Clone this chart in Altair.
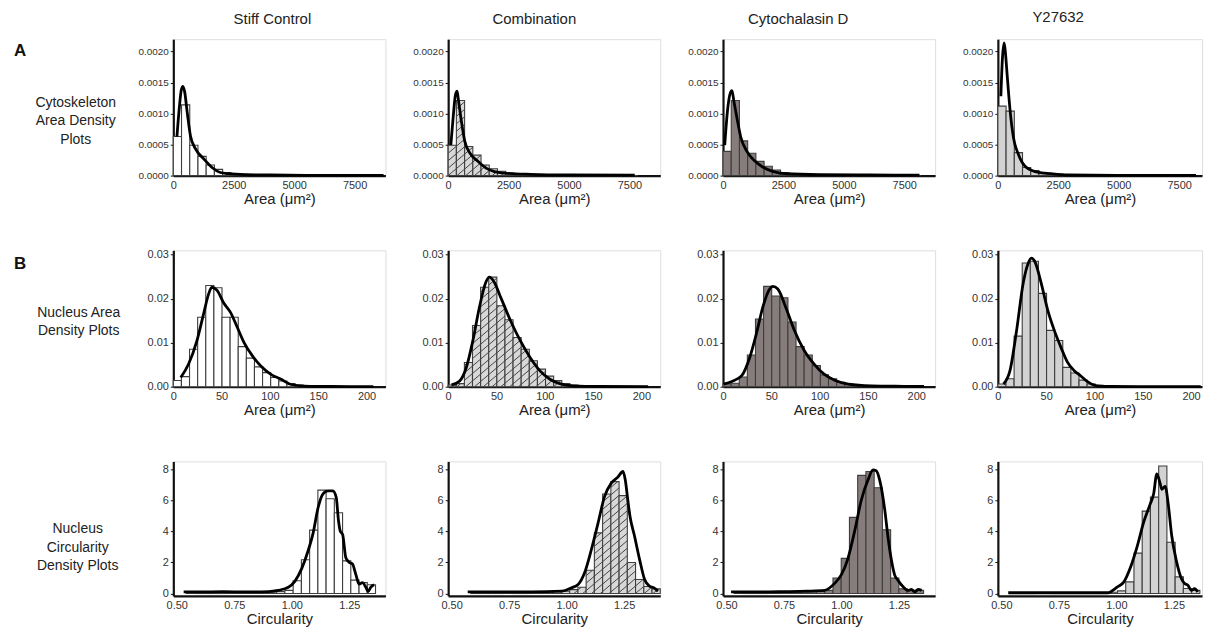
import math
import altair as alt
import pandas as pd

FONT = "Liberation Sans"
TEXT = "#222222"

# ---------------- text content ----------------
conditions = ["Stiff Control", "Combination", "Cytochalasin D", "Y27632"]
panel_letters = ["A", "B", ""]
row_text = ["Cytoskeleton\nArea Density\nPlots",
            "Nucleus Area\nDensity Plots",
            "Nucleus\nCircularity\nDensity Plots"]
x_titles = ["Area (μm²)", "Area (μm²)", "Circularity"]

# ---------------- row A : cytoskeleton area ----------------
A_bin = 340.0
A_start = [0.0, 0.0, 0.0, 0.0]
A_hist = [
    [0.00063, 0.00114, 0.00049, 0.00031, 0.00017, 0.00010, 0.00005, 0.00003, 0.00002, 0.000015,
     0.00001, 0.00001, 0.000008, 0.000006, 0.000005, 0.000004, 0.000003, 0.000003, 0.000002,
     0.000002, 0.000002, 0.000001, 0.000001, 0.000001, 0.000001],
    [0.00049, 0.00121, 0.00047, 0.00033, 0.00017, 0.00011, 0.00007, 0.00004, 0.00003, 0.00002,
     0.00001, 0.00001, 0.000008, 0.000006, 0.000005, 0.000004, 0.000003, 0.000003, 0.000002,
     0.000002, 0.000002, 0.000001, 0.000001],
    [0.00039, 0.00121, 0.00056, 0.00036, 0.00023, 0.00015, 0.00009, 0.00005, 0.00003, 0.00002,
     0.00001, 0.00001, 0.000008, 0.000006, 0.000005, 0.000004, 0.000003, 0.000003, 0.000002,
     0.000002, 0.000002, 0.000001, 0.000001, 0.000001],
    [0.00112, 0.00104, 0.00037, 0.00013, 0.00008, 0.00005, 0.00003, 0.00002, 0.00001, 0.00001,
     0.000008, 0.000006, 0.000005, 0.000004, 0.000003, 0.000003, 0.000002, 0.000002, 0.000002,
     0.000001, 0.000001, 0.000001, 0.000001, 0.000001],
]
A_kde_x = [
    [150, 250, 330, 400, 470, 575, 710, 920, 1260, 1600, 1945, 2290, 2970, 4000, 5500, 7000, 8700],
    [110, 220, 300, 369, 430, 546, 683, 888, 1230, 1570, 1913, 2320, 3415, 5000, 7720],
    [70, 200, 300, 371, 450, 577, 742, 989, 1332, 1676, 2088, 2637, 4011, 6000, 8130],
    [124, 190, 261, 320, 371, 508, 646, 852, 1126, 1538, 2225, 2912, 5000, 8200],
]
A_kde_y = [
    [0.00063, 0.00110, 0.00138, 0.00144, 0.00135, 0.00102, 0.00064, 0.00043, 0.00027, 0.00013,
     0.00005, 0.00003, 0.000015, 0.00001, 0.000005, 0.000003, 0.000002],
    [0.00049, 0.00100, 0.00130, 0.00136, 0.00120, 0.00088, 0.00056, 0.00037, 0.00023, 0.00012,
     0.000065, 0.00004, 0.00002, 0.00001, 0.000008],
    [0.00049, 0.00110, 0.00133, 0.00137, 0.00120, 0.00093, 0.00061, 0.00039, 0.00023, 0.00013,
     0.000065, 0.00003, 0.000015, 0.00001, 0.000008],
    [0.00128, 0.00190, 0.00214, 0.00195, 0.00169, 0.00104, 0.00061, 0.00034, 0.00015, 0.000065,
     0.00003, 0.00001, 0.000005, 0.000003],
]
A_xticks = [0, 2500, 5000, 7500]
A_yticks = [0.0, 0.0005, 0.0010, 0.0015, 0.0020]

# ---------------- row B : nucleus area ----------------
B_bin = 8.4
B_start = [0.0, 0.0, 0.0, 0.0]
B_hist = [
    [0.0014, 0.0023, 0.0085, 0.0158, 0.0230, 0.0225, 0.0158, 0.0158, 0.0091, 0.0065, 0.0045, 0.0032,
     0.0021, 0.0013, 0.0007, 0.0004, 0.0002, 0.0001, 0.0001, 0.00005, 0.00005, 0.00003, 0.00003, 0.00002],
    [0.0004, 0.0007, 0.0055, 0.0139, 0.0226, 0.0249, 0.0184, 0.0152, 0.0112, 0.0085, 0.0059, 0.0040,
     0.0024, 0.0014, 0.0007, 0.0004, 0.0002, 0.0001, 0.0001, 0.00005, 0.00005, 0.00003, 0.00003, 0.00002],
    [0.0006, 0.0008, 0.0022, 0.0072, 0.0154, 0.0228, 0.0206, 0.0202, 0.0147, 0.0091, 0.0072, 0.0048,
     0.0027, 0.0018, 0.0010, 0.0006, 0.0004, 0.0002, 0.0001, 0.0001, 0.00005, 0.00005, 0.00003, 0.00003],
    [0.0006, 0.0018, 0.0115, 0.0281, 0.0285, 0.0212, 0.0128, 0.0105, 0.0044, 0.0031, 0.0015, 0.0006,
     0.0003, 0.0002, 0.0001, 0.00005, 0.00005, 0.00003, 0.00003, 0.00002, 0.00002, 0.00002, 0.00001, 0.00001],
]
B_kde_x = [
    [7.7, 15.7, 24.4, 31.3, 36.6, 40.0, 45.3, 52.2, 59.2, 66.2, 73.1, 81.9, 90.6, 101.0, 111.5, 122.0, 136.0, 164.0, 207.0],
    [3.4, 11.9, 18.7, 25.5, 32.3, 39.1, 42.5, 47.6, 54.4, 64.6, 74.8, 85.0, 95.1, 105.3, 115.5, 129.0, 156.0, 207.0],
    [0.7, 9.2, 19.4, 27.9, 34.7, 41.5, 48.3, 51.6, 56.7, 65.2, 73.7, 83.9, 94.1, 104.3, 116.2, 129.8, 153.6, 187.6, 208.0],
    [5.8, 12.6, 19.4, 26.2, 31.3, 34.7, 38.1, 44.9, 51.6, 58.4, 65.2, 72.0, 78.8, 85.6, 92.4, 102.6, 116.2, 174.0, 210.0],
]
B_kde_y = [
    [0.0021, 0.0051, 0.0104, 0.0165, 0.0211, 0.0226, 0.0219, 0.0190, 0.0169, 0.0135, 0.0101, 0.0070,
     0.0047, 0.0028, 0.0017, 0.0005, 0.00015, 0.00005, 0.00002],
    [0.0004, 0.0013, 0.0043, 0.0104, 0.0180, 0.0238, 0.0249, 0.0238, 0.0203, 0.0150, 0.0104, 0.0066,
     0.0036, 0.0017, 0.0007, 0.0002, 0.00005, 0.00002],
    [0.0006, 0.0012, 0.0025, 0.0068, 0.0122, 0.0183, 0.0222, 0.0228, 0.0222, 0.0179, 0.0129, 0.0083,
     0.0052, 0.0029, 0.0014, 0.0006, 0.0002, 0.0001, 0.00005],
    [0.0006, 0.0037, 0.0128, 0.0235, 0.0280, 0.0292, 0.0285, 0.0235, 0.0174, 0.0128, 0.0090, 0.0056,
     0.0037, 0.0025, 0.0012, 0.0002, 0.00005, 0.00002, 0.00001],
]
B_xticks = [0, 50, 100, 150, 200]
B_yticks = [0.0, 0.01, 0.02, 0.03]

# ---------------- row C : nucleus circularity ----------------
C_bin = 0.0358
C_start = [0.5406, 0.5836, 0.5334, 0.5396]
C_hist = [
    [0.05, 0.05, 0.06, 0.06, 0.06, 0.05, 0.06, 0.08, 0.08, 0.10, 0.10, 0.12, 0.20,
     0.82, 2.17, 4.08, 6.65, 6.10, 5.20, 2.10, 0.86, 0.70, 0.56],
    [0.05, 0.05, 0.05, 0.06, 0.06, 0.06, 0.06, 0.08, 0.08, 0.10, 0.12, 0.15, 0.25,
     0.40, 1.50, 3.90, 6.40, 7.20, 6.30, 2.00, 0.90, 0.45, 0.30],
    [0.05, 0.05, 0.06, 0.06, 0.06, 0.08, 0.08, 0.10, 0.10, 0.12, 0.15, 0.20,
     1.00, 2.26, 4.90, 7.60, 7.85, 6.80, 4.10, 1.00, 0.30, 0.20, 0.20],
    [0.03, 0.03, 0.03, 0.03, 0.04, 0.04, 0.04, 0.04, 0.05, 0.05, 0.05, 0.06, 0.08,
     0.17, 0.75, 2.60, 5.30, 6.20, 8.20, 3.30, 1.07, 0.32, 0.20],
]
C_kde_x = [
    [0.53, 0.60, 0.70, 0.80, 0.90, 0.94, 0.985, 1.014, 1.043, 1.071, 1.093, 1.114, 1.135, 1.157, 1.178,
     1.193, 1.203, 1.211, 1.221, 1.235, 1.250, 1.264, 1.278, 1.293, 1.307, 1.322, 1.332, 1.343, 1.358],
    [0.57, 0.70, 0.85, 0.98, 1.020, 1.050, 1.078, 1.107, 1.136, 1.165, 1.194, 1.223, 1.245, 1.255,
     1.266, 1.275, 1.295, 1.317, 1.339, 1.360, 1.380, 1.397],
    [0.52, 0.65, 0.75, 0.85, 0.927, 0.970, 0.999, 1.028, 1.057, 1.086, 1.115, 1.137, 1.151, 1.166,
     1.188, 1.202, 1.217, 1.231, 1.245, 1.268, 1.290, 1.304, 1.319, 1.333, 1.348],
    [0.53, 0.65, 0.80, 0.90, 0.962, 1.005, 1.033, 1.062, 1.090, 1.119, 1.147, 1.162, 1.176, 1.190,
     1.198, 1.212, 1.226, 1.240, 1.261, 1.283, 1.297, 1.311, 1.326, 1.340, 1.354],
]
C_kde_y = [
    [0.10, 0.10, 0.12, 0.10, 0.12, 0.20, 0.40, 0.80, 1.60, 2.75, 3.90, 5.50, 6.40, 6.60, 6.60,
     6.20, 4.70, 4.00, 3.80, 2.30, 2.00, 1.90, 1.25, 0.60, 0.70, 0.40, 0.13, 0.40, 0.56],
    [0.10, 0.10, 0.10, 0.15, 0.36, 0.58, 1.33, 2.80, 4.50, 6.25, 7.10, 7.50, 7.85, 7.30,
     6.00, 5.00, 3.70, 2.20, 0.90, 0.47, 0.36, 0.15],
    [0.10, 0.10, 0.12, 0.15, 0.20, 0.65, 1.20, 2.25, 4.00, 6.00, 7.30, 7.95, 7.90, 7.30,
     5.40, 3.65, 2.15, 1.20, 0.86, 0.43, 0.20, 0.26, 0.10, 0.26, 0.20],
    [0.05, 0.05, 0.05, 0.05, 0.05, 0.43, 0.75, 1.70, 3.00, 4.60, 5.75, 6.40, 7.70, 7.10,
     6.70, 6.90, 5.70, 3.80, 2.10, 0.96, 0.64, 0.53, 0.20, 0.32, 0.10],
]
C_xticks = [0.50, 0.75, 1.00, 1.25]
C_yticks = [0, 2, 4, 6, 8]

# ---------------- styles & layout ----------------
bar_fill = ["#ffffff", "#d8d8d8", "#867c7c", "#d2d2d2"]
hatched = [False, True, False, False]
BAR_STROKE = "#3e3e3e"
COL_W = [213, 213, 213, 205]
ROW_H = [137, 137, 135]
LABEL_W = 97
TITLE_DX = [-7, -20, -31, -42]
LABEL_POS = [(62, 64), (65, 63), (64, 68)]
LETTER_Y = [12, 14, 0]

ROWS = [
    dict(start=A_start, bin=A_bin, hist=A_hist, kx=A_kde_x, ky=A_kde_y, xmin=0.0, ppu=0.02427,
         ydom=[0.0, 0.0022], xticks=A_xticks, yticks=A_yticks, xfmt="d", yfmt=".4f", ylab=10),
    dict(start=B_start, bin=B_bin, hist=B_hist, kx=B_kde_x, ky=B_kde_y, xmin=0.0, ppu=0.97,
         ydom=[0.0, 0.031], xticks=B_xticks, yticks=B_yticks, xfmt="d", yfmt=".2f", ylab=11),
    dict(start=C_start, bin=C_bin, hist=C_hist, kx=C_kde_x, ky=C_kde_y, xmin=0.485, ppu=231.0,
         ydom=[-0.15, 8.5], xticks=C_xticks, yticks=C_yticks, xfmt=".2f", yfmt="d", ylab=11),
]


def bars_frame(start, width, heights):
    x0 = [start + i * width for i in range(len(heights))]
    return pd.DataFrame({"x": x0, "x2": [v + width for v in x0], "y": heights,
                         "y2": [0.0] * len(heights)})


def hatch_segments(bars, xdom, ydom, w, h, slope=0.85, gap=7.5):
    sx = w / (xdom[1] - xdom[0])
    sy = h / (ydom[1] - ydom[0])
    segs = []
    for x0, x1, top in zip(bars["x"], bars["x2"], bars["y"]):
        px0, px1 = (x0 - xdom[0]) * sx, (x1 - xdom[0]) * sx
        py0, py1 = (0 - ydom[0]) * sy, (top - ydom[0]) * sy
        if py1 - py0 < 2.5:
            continue
        kmin = math.floor((py0 - slope * px1) / gap)
        kmax = math.ceil((py1 - slope * px0) / gap)
        for k in range(kmin, kmax + 1):
            c = k * gap
            xa = max(px0, (py0 - c) / slope)
            xb = min(px1, (py1 - c) / slope)
            if xb - xa > 0.4:
                segs.append({"x": xa / sx + xdom[0], "y": (slope * xa + c) / sy + ydom[0],
                             "x2": xb / sx + xdom[0], "y2": (slope * xb + c) / sy + ydom[0]})
    return pd.DataFrame(segs)


def panel(r, c):
    R = ROWS[r]
    w, h = COL_W[c], ROW_H[r]
    xdom = [R["xmin"], R["xmin"] + w / R["ppu"]]
    ydom = R["ydom"]
    xs = alt.Scale(domain=xdom, nice=False, zero=False)
    ys = alt.Scale(domain=ydom, nice=False, zero=False)
    xa = alt.Axis(values=R["xticks"], tickCount=20, format=R["xfmt"], grid=False, ticks=False,
                  domainColor="#111111", domainWidth=2.2, labelFont=FONT, labelFontSize=11,
                  labelColor="#333333", labelPadding=4, labelFlush=False, labelOverlap=False,
                  titleFont=FONT, titleFontSize=15, titleFontWeight="normal", titleColor=TEXT,
                  titlePadding=1)
    ya = alt.Axis(values=R["yticks"], tickCount=20, format=R["yfmt"], grid=False, ticks=True,
                  tickSize=3, tickColor="#111111", domainColor="#111111", domainWidth=2.2,
                  labelFont=FONT, labelFontSize=R["ylab"], labelColor="#333333", labelPadding=2,
                  labelFlush=False, labelOverlap=False)
    xt = x_titles[r]
    bars = bars_frame(R["start"][c], R["bin"], R["hist"][c])
    layers = [alt.Chart(bars).mark_rect(fill=bar_fill[c], stroke=BAR_STROKE, strokeWidth=1.1).encode(
        x=alt.X("x:Q", scale=xs, axis=xa, title=xt), x2="x2:Q",
        y=alt.Y("y:Q", scale=ys, axis=ya, title=None), y2="y2:Q")]
    if hatched[c]:
        hdf = hatch_segments(bars, xdom, ydom, w, h)
        layers.append(alt.Chart(hdf).mark_rule(color="#444444", strokeWidth=1.0).encode(
            x=alt.X("x:Q", title=xt), x2="x2:Q", y=alt.Y("y:Q", title=None), y2="y2:Q"))
    kde = pd.DataFrame({"x": R["kx"][c], "y": R["ky"][c]})
    layers.append(alt.Chart(kde).mark_line(color="#000000", strokeWidth=2.8, interpolate="monotone").encode(
        x=alt.X("x:Q", title=xt), y=alt.Y("y:Q", title=None)))
    ch = alt.layer(*layers).properties(width=w, height=h)
    if r == 0:
        ch = ch.properties(title=alt.TitleParams(conditions[c], font=FONT, fontSize=15,
                                                 fontWeight="normal", color=TEXT, offset=12,
                                                 frame="group", dx=TITLE_DX[c]))
    return ch


def label_chart(r):
    df_lab = pd.DataFrame({"t": [row_text[r]]})
    layers = [alt.Chart(df_lab).mark_text(font=FONT, fontSize=14, color=TEXT, align="center",
                                          baseline="middle", lineBreak="\n", lineHeight=18.5).encode(
        text="t:N", x=alt.value(LABEL_POS[r][0]), y=alt.value(LABEL_POS[r][1]))]
    if panel_letters[r]:
        df_let = pd.DataFrame({"t": [panel_letters[r]]})
        layers.append(alt.Chart(df_let).mark_text(font=FONT, fontSize=17, fontWeight="bold",
                                                  color="#111111", align="left", baseline="middle").encode(
            text="t:N", x=alt.value(0), y=alt.value(LETTER_Y[r])))
    return alt.layer(*layers).properties(width=LABEL_W, height=ROW_H[r],
                                         view=alt.ViewBackground(stroke="transparent"))


cells = []
for r in range(3):
    cells.append(label_chart(r))
    for c in range(4):
        cells.append(panel(r, c))

chart = alt.concat(*cells, columns=5, spacing={"row": 75, "column": 63}, bounds="flush").properties(
    padding={"left": 5, "top": 0, "right": 0, "bottom": 0}
).configure_view(stroke="#dedede", strokeWidth=1)

chart.save("out.html", embed_options={"renderer": "svg", "actions": False})
